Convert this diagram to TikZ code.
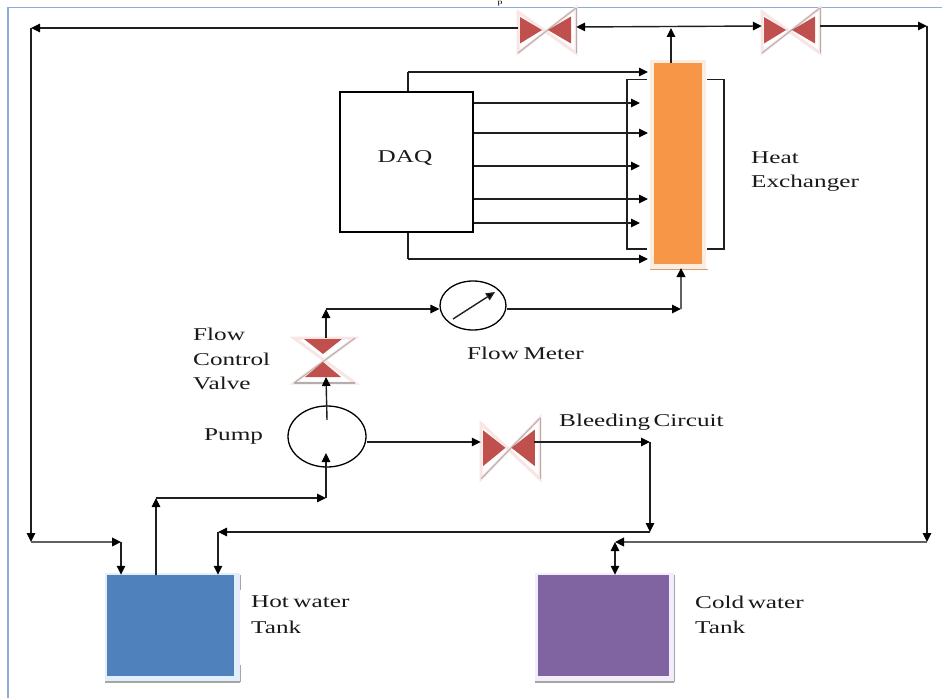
\documentclass[tikz,border=0pt]{standalone}
\usepackage{fontspec}
\setmainfont[FakeStretch=1.4]{Liberation Serif}
\usetikzlibrary{arrows.meta,shapes.geometric}
\definecolor{framec}{HTML}{8FAADC}
\definecolor{vred}{HTML}{C0504D}
\definecolor{vpale}{HTML}{F8E6E5}
\definecolor{vgrey}{HTML}{B5AEAE}
\definecolor{heor}{HTML}{F79646}
\definecolor{hepale}{HTML}{FDEDE0}
\definecolor{hotb}{HTML}{4F81BD}
\definecolor{hotpale}{HTML}{E2EFFB}
\definecolor{coldp}{HTML}{8064A2}
\definecolor{coldpale}{HTML}{F3ECFA}
\definecolor{shadowc}{HTML}{A6A6A6}
\tikzset{
  x=1pt,y=-1pt,
  wire/.style={line width=1.4pt,black!88},
  thickwire/.style={line width=2.4pt,black!62},
  arr/.style={-{Triangle[length=9pt,width=8.5pt,color=black,fill=black]}},
  bothends/.style={{Triangle[length=9pt,width=8.5pt,color=black,fill=black]}-{Triangle[length=9pt,width=8.5pt,color=black,fill=black]}},
  label/.style={inner sep=0pt,anchor=west,font=\fontsize{18}{18}\selectfont,text=black!90},
  boxed/.style={draw=black,line width=1.3pt,fill=white,inner sep=0pt},
  vtri/.style={fill=vred,draw=none},
}
% horizontal valve: #1 name, #2 x, #3 y, #4 half-width, #5 half-height
\newcommand{\hvalve}[5]{%
  \node[inner sep=0pt,minimum width=2*#4 pt,minimum height=2*#5 pt] (#1) at (#2,#3) {};
  \begin{scope}[shift={(#2,#3)},xscale=#4/29,yscale=#5/22.5]
    \draw[vpale,line width=3pt] (-29,-18.5) -- (29,22.5) -- (29,-22.5) -- (-29,22.5) -- cycle;
    \draw[vgrey,line width=1pt] (29,-22.5) -- (-29,22.5);
    \draw[vgrey,line width=1pt] (29,-22.5) -- (29,22.5);
    \fill[vtri] (-27,-13.5) -- (-27,13) -- (-5,-0.5) -- cycle;
    \fill[vtri] (24,-14) -- (24,13) -- (1,-0.5) -- cycle;
  \end{scope}}
\begin{document}
\begin{tikzpicture}
\clip (0,0) rectangle (942,698);
\fill[white] (0,0) rectangle (942,698);
% page frame
\draw[framec,line width=1.6pt] (942,7.5) -- (8,7.5) -- (8,698);
\node[inner sep=0pt,font=\fontsize{7}{7}\selectfont] (topmark) at (500,3.5) {p};

% shapes
\node[minimum width=56pt,minimum height=210pt,inner sep=0pt,fill=hepale] (hehalo) at (678,165) {};
\draw[heor!60!shadowc,line width=1.2pt] (650,269.5) -- (708,269.5);
\node[minimum width=48pt,minimum height=201pt,inner sep=0pt,fill=heor] (he) at (678,163.5) {};
\node[boxed,minimum width=133pt,minimum height=140pt] (daq) at (406.5,162) {};
\node[inner sep=0pt,font=\fontsize{18}{18}\selectfont,text=black!90] (daqlabel) at (405,158) {DAQ};

\node[minimum width=135pt,minimum height=109pt,inner sep=0pt,fill=hotpale] (hotbg) at (172.5,627.5) {};
\draw[shadowc,line width=2pt] (105,681.5) -- (240,681.5);
\draw[shadowc,line width=1pt] (240,575) -- (240,590) (240,665) -- (240,682);
\node[minimum width=127pt,minimum height=101pt,inner sep=0pt,fill=hotb] (hot) at (170.5,625.5) {};
\node[minimum width=139pt,minimum height=109pt,inner sep=0pt,fill=coldpale] (coldbg) at (604.5,627.5) {};
\draw[shadowc,line width=2pt] (535,681.5) -- (674,681.5);
\draw[shadowc,line width=1pt] (674,575) -- (674,682);
\node[minimum width=131pt,minimum height=101pt,inner sep=0pt,fill=coldp] (cold) at (603.5,625.5) {};

\node[draw=black,line width=1.3pt,ellipse,inner sep=0pt,fill=white,minimum width=78pt,minimum height=61pt] (pump) at (327,436.5) {};
\node[draw=black,line width=1.3pt,ellipse,inner sep=0pt,fill=white,minimum width=66pt,minimum height=49pt] (meter) at (473,305.5) {};

% valves
\hvalve{va}{547}{30.5}{29}{22.5}
\hvalve{vb}{791}{30.5}{29}{22.5}
\hvalve{vc}{510.5}{448.5}{29.5}{30.5}
% flow control valve
\node[inner sep=0pt,minimum width=61pt,minimum height=45pt] (fcv) at (324.5,360.5) {};
\draw[vpale,line width=3pt] (294,338) -- (355,338) -- (294,383) -- (355,383) -- cycle;
\draw[vgrey,line width=1.4pt] (294,383) -- (355,383);
\draw[vgrey,line width=1pt] (355,338) -- (294,383);
\fill[vtri] (304,339) -- (342,339) -- (323,354) -- cycle;
\fill[vtri] (305,377) -- (341,377) -- (323,362) -- cycle;

% junction coordinates
\coordinate (topl) at (31,28);
\coordinate (hl) at (31,542);
\coordinate (hotin) at (121,542);
\coordinate (topr) at (927,26);
\coordinate (cr) at (927,542);
\coordinate (coldin) at (615,542);
\coordinate (teeup) at (671,28);
\coordinate (a1) at (408,72);
\coordinate (a2) at (408,259);
\coordinate (hx1) at (648,72);
\coordinate (hx2) at (648,259);
\coordinate (p1) at (326,309);
\coordinate (q1) at (681,309);
\coordinate (b1) at (650,442);
\coordinate (b2) at (650,532);
\coordinate (b3) at (218,532);
\coordinate (h1) at (156,498);
\coordinate (h2) at (326,498);

% top main lines
\draw[wire,arr] (va.west |- topl) -- (topl);
\draw[wire,arr] (topl) -- (hl);
\draw[thickwire,arr] (hl) -- (hotin);
\draw[wire,arr] (hotin) -- (hotin |- hot.north);
\draw[wire,bothends] (va.east |- 0,27) -- (vb.west |- 0,26);
\draw[wire,arr] (he.north -| teeup) -- (teeup);
\draw[wire,arr] (vb.east |- topr) -- (topr);
\draw[wire,arr] (topr) -- (cr);
\draw[thickwire,arr] (cr) -- (coldin);
\draw[wire,bothends] (coldin) -- (coldin |- cold.north);

% DAQ to heat exchanger
\draw[wire] (daq.north -| a1) -- (a1);
\draw[wire,arr] (a1) -- (hx1);
\draw[wire] (daq.south -| a2) -- (a2);
\draw[wire,arr] (a2) -- (hx2);
\draw[wire,arr] (daq.east |- 0,103) -- (640,103);
\draw[wire,arr] (daq.east |- 0,133) -- (648,133);
\draw[wire,arr] (daq.east |- 0,166) -- (640,166);
\draw[wire,arr] (daq.east |- 0,199) -- (648,199);
\draw[wire,arr] (daq.east |- 0,223) -- (640,223);
% coil
\draw[wire] (647,79.5) -- (627,79.5) -- (627,249) -- (647,249);
\draw[wire] (707,79.5) -- (724,79.5) -- (724,249) -- (707,249);

% flow path
\draw[wire,arr] (pump.center |- 0,420) -- (326,377);
\draw[wire,arr] (326,338) -- (p1);
\draw[wire,arr] (p1) -- (meter.west |- p1);
\draw[wire,-{Triangle[length=9pt,width=8pt,fill=black]}] (453,319) -- (495,292);
\draw[wire,arr] (meter.east |- q1) -- (q1);
\draw[thickwire,arr] (q1) -- (681,268);

% bleed
\draw[wire,arr] (pump.east |- 0,442) -- (vc.west |- 0,442);
\draw[wire,arr] (534,442) -- (b1);
\draw[wire,arr] (b1) -- (b2);
\draw[wire,arr] (b2) -- (b3);
\draw[wire,arr] (b3) -- (b3 |- hot.north);

% hot outlet
\draw[wire,arr] (h1 |- hot.north) -- (h1);
\draw[wire,arr] (h1) -- (h2);
\draw[wire,arr] (h2) -- (326,453);

% labels
\node[label] (lheat) at (751,158) {Heat};
\node[label] (lexch) at (751,183) {Exchanger};
\node[label] (lflow) at (193,334) {Flow};
\node[label] (lcont) at (193,359) {Control};
\node[label] (lvalv) at (193,383) {Valve};
\node[label] (lpump) at (204,437) {Pump};
\node[label] (lmeter) at (467,353) {Flow\hspace{-0.1em} Meter};
\node[label] (lbleed) at (559,422) {Bleeding\hspace{-0.16em} Circuit};
\node[label] (lhot) at (251,602) {Hot\hspace{-0.1em} water};
\node[label] (ltank) at (251,627) {Tank};
\node[label] (lcold) at (695,602) {Cold\hspace{-0.15em} water};
\node[label] (ltankb) at (695,627) {Tank};
\end{tikzpicture}
\end{document}
